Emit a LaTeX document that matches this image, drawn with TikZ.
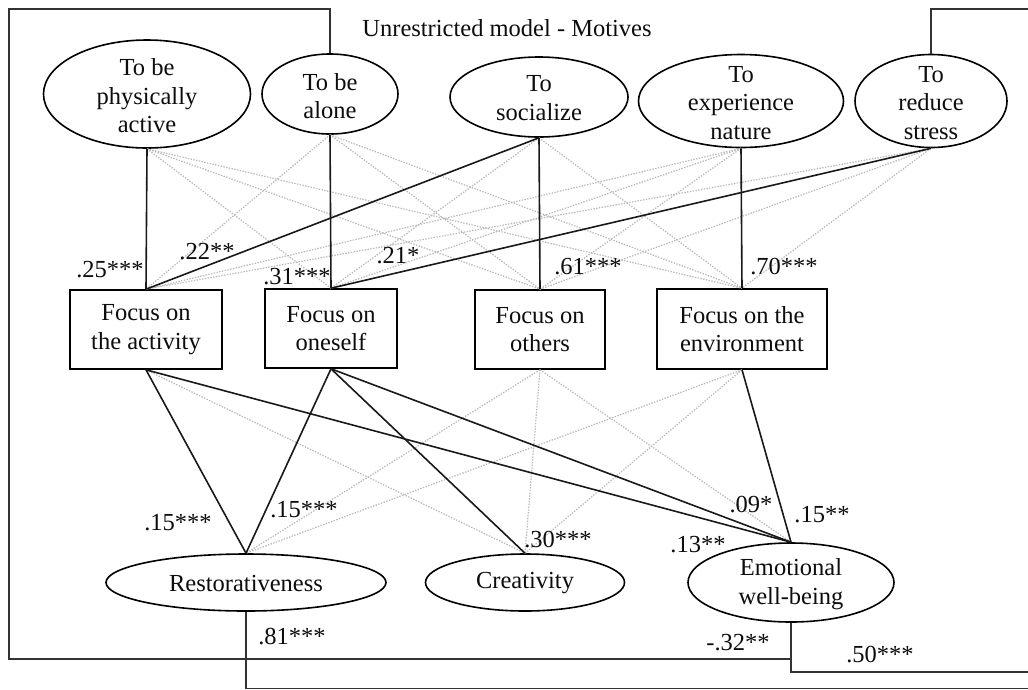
\documentclass[tikz,border=0pt]{standalone}
\usepackage{fontspec}
\setmainfont{Liberation Serif}
\usetikzlibrary{shapes.geometric}
\begin{document}
\begin{tikzpicture}[x=1pt,y=-1pt,
  every node/.style={font=\fontsize{24.5}{28.5}\selectfont, text=black!95},
  mot/.style={draw, ellipse, line width=1.6pt, inner sep=0pt},
  txt/.style={align=center, inner sep=0pt},
  focus/.style={draw, rectangle, line width=1.6pt, inner sep=0pt, align=center},
  solidln/.style={line width=1.6pt, black!90},
  dotln/.style={line width=1.2pt, gray!55, dash pattern=on 1.4pt off 1.4pt},
  bracket/.style={line width=1.6pt, black!80},
  coef/.style={inner sep=0pt}
]
\useasboundingbox (0,0) rectangle (1028,689);
\clip (0,0) rectangle (1028,689);
\fill[white] (0,0) rectangle (1028,689);

% title
\node (title) at (507,28) {Unrestricted model - Motives};

% motives
\node[mot, minimum width=207pt, minimum height=108pt] (m1) at (147,94) {};
\node[mot, minimum width=136pt, minimum height=80pt] (m2) at (330,94) {};
\node[mot, minimum width=178pt, minimum height=80pt] (m3) at (539,97) {};
\node[mot, minimum width=205pt, minimum height=93pt] (m4) at (741,101) {};
\node[mot, minimum width=152pt, minimum height=93pt] (m5) at (931,101) {};
\node[txt] (m1t) at (147,96) {To be\\physically\\active};
\node[txt] (m2t) at (330,96) {To be\\alone};
\node[txt] (m3t) at (539,98) {To\\socialize};
\node[txt] (m4t) at (741,103) {To\\experience\\nature};
\node[txt] (m5t) at (931,103) {To\\reduce\\stress};

% focus boxes
\node[focus, minimum width=152pt, minimum height=79pt] (f1) at (146,329.5) {Focus on\\the activity};
\node[focus, minimum width=132pt, minimum height=79pt] (f2) at (331,328.5) {Focus on\\oneself};
\node[focus, minimum width=130pt, minimum height=79pt] (f3) at (540,329.5) {Focus on\\others};
\node[focus, minimum width=170pt, minimum height=80pt] (f4) at (742,329) {Focus on the\\environment};

% outcomes
\node[mot, minimum width=280pt, minimum height=57pt] (o1) at (246,582.5) {};
\node[mot, minimum width=199pt, minimum height=57pt] (o2) at (525,582.5) {};
\node[mot, minimum width=206pt, minimum height=79pt] (o3) at (791,582.5) {};
\node[txt] (o1t) at (246,583) {Restorativeness};
\node[txt] (o2t) at (525,583) {Creativity};
\node[txt] (o3t) at (791,584) {Emotional\\well-being};

% dotted (non-significant) paths
\foreach \a/\b in {m1/f2,m1/f3,m1/f4,m2/f1,m2/f3,m2/f4,m3/f2,m3/f4,m4/f1,m4/f2,m4/f3,m5/f1,m5/f3,m5/f4}
  \draw[dotln] (\a.south) -- (\b.north);
\foreach \a/\b in {f1/o2,f3/o1,f3/o2,f3/o3,f4/o1,f4/o2}
  \draw[dotln] (\a.south) -- (\b.north);

% solid (significant) paths
\foreach \a/\b in {m1/f1,m3/f1,m2/f2,m5/f2,m3/f3,m4/f4}
  \draw[solidln] (\a.south) -- (\b.north);
\foreach \a/\b in {f1/o1,f2/o1,f2/o2,f1/o3,f2/o3,f4/o3}
  \draw[solidln] (\a.south) -- (\b.north);

% correlation brackets
\coordinate (lt) at (9,9);
\coordinate (lb) at (9,659);
\coordinate (rt) at (1040,9);
\coordinate (rb) at (1040,672);
\coordinate (bb) at (1040,688.6);
\draw[bracket] (m2.north) |- (lt) -- (lb) -| (o3.south);
\draw[bracket] (m5.north) |- (rt);
\draw[bracket] (o3.south) |- (rb);
\draw[bracket] (o1.south) |- (bb);

% coefficients
\node[coef] (c1) at (110,270) {.25***};
\node[coef] (c2) at (207,252) {.22**};
\node[coef] (c3) at (297,277) {.31***};
\node[coef] (c4) at (398,256) {.21*};
\node[coef] (c5) at (588,267) {.61***};
\node[coef] (c6) at (784,267) {.70***};
\node[coef] (c7) at (178,523) {.15***};
\node[coef] (c8) at (304,510) {.15***};
\node[coef] (c9) at (558,540) {.30***};
\node[coef] (c10) at (751,505) {.09*};
\node[coef] (c11) at (822,515) {.15**};
\node[coef] (c12) at (698,545) {.13**};
\node[coef] (c13) at (292,637) {.81***};
\node[coef] (c14) at (738,643) {-.32**};
\node[coef] (c15) at (880,655) {.50***};
\end{tikzpicture}
\end{document}
